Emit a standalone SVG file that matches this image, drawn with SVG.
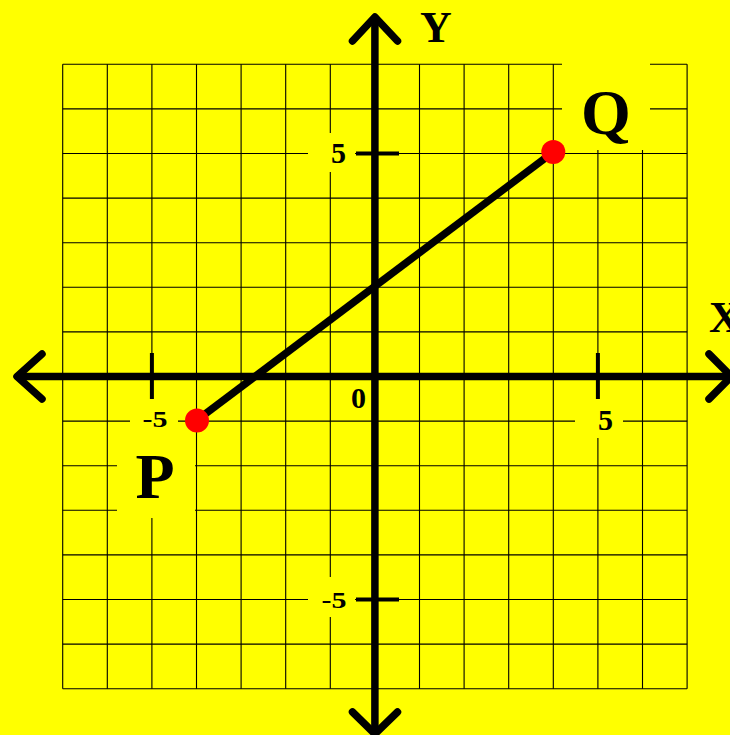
<svg xmlns="http://www.w3.org/2000/svg" width="730" height="735" viewBox="0 0 730 735">
<style>
.grid line{stroke:#000;stroke-width:1.1}
.bg{fill:#ffff00}
.ax{stroke:#000;stroke-width:7.5;fill:none;stroke-linecap:round;stroke-linejoin:round}
.tick{stroke:#000;stroke-width:4}
.t{font-family:"Liberation Serif",serif;font-weight:bold;fill:#000;text-anchor:middle}
.num{font-size:30px}
.big{font-size:64px}
.axl{font-size:44px}
</style>
<rect width="730" height="735" fill="#ffff00"/>
<g class="grid" id="grid">
<line x1="62.7" y1="64.3" x2="62.7" y2="688.7"/>
<line x1="107.3" y1="64.3" x2="107.3" y2="688.7"/>
<line x1="151.9" y1="64.3" x2="151.9" y2="688.7"/>
<line x1="196.5" y1="64.3" x2="196.5" y2="688.7"/>
<line x1="241.1" y1="64.3" x2="241.1" y2="688.7"/>
<line x1="285.7" y1="64.3" x2="285.7" y2="688.7"/>
<line x1="330.3" y1="64.3" x2="330.3" y2="688.7"/>
<line x1="374.9" y1="64.3" x2="374.9" y2="688.7"/>
<line x1="419.5" y1="64.3" x2="419.5" y2="688.7"/>
<line x1="464.1" y1="64.3" x2="464.1" y2="688.7"/>
<line x1="508.7" y1="64.3" x2="508.7" y2="688.7"/>
<line x1="553.3" y1="64.3" x2="553.3" y2="688.7"/>
<line x1="597.9" y1="64.3" x2="597.9" y2="688.7"/>
<line x1="642.5" y1="64.3" x2="642.5" y2="688.7"/>
<line x1="687.1" y1="64.3" x2="687.1" y2="688.7"/>
<line x1="62.7" y1="64.3" x2="687.1" y2="64.3"/>
<line x1="62.7" y1="108.9" x2="687.1" y2="108.9"/>
<line x1="62.7" y1="153.5" x2="687.1" y2="153.5"/>
<line x1="62.7" y1="198.1" x2="687.1" y2="198.1"/>
<line x1="62.7" y1="242.7" x2="687.1" y2="242.7"/>
<line x1="62.7" y1="287.3" x2="687.1" y2="287.3"/>
<line x1="62.7" y1="331.9" x2="687.1" y2="331.9"/>
<line x1="62.7" y1="376.5" x2="687.1" y2="376.5"/>
<line x1="62.7" y1="421.1" x2="687.1" y2="421.1"/>
<line x1="62.7" y1="465.7" x2="687.1" y2="465.7"/>
<line x1="62.7" y1="510.3" x2="687.1" y2="510.3"/>
<line x1="62.7" y1="554.9" x2="687.1" y2="554.9"/>
<line x1="62.7" y1="599.5" x2="687.1" y2="599.5"/>
<line x1="62.7" y1="644.1" x2="687.1" y2="644.1"/>
<line x1="62.7" y1="688.7" x2="687.1" y2="688.7"/>
</g>
<g id="label-backgrounds">
<rect class="bg" x="562" y="58" width="88" height="92"/>
<rect class="bg" x="117" y="440" width="78" height="78"/>
<rect class="bg" x="130" y="399" width="48" height="41"/>
<rect class="bg" x="575" y="399" width="48" height="39"/>
<rect class="bg" x="308" y="133" width="47" height="39"/>
<rect class="bg" x="308" y="577" width="47" height="40"/>
</g>
<g id="axes">
<line class="ax" x1="18" y1="376.5" x2="730" y2="376.5"/>
<polyline class="ax" points="42,354 17,376.5 42,399"/>
<polyline class="ax" points="709,354 731.5,376.5 709,399"/>
<line class="ax" x1="374.9" y1="18" x2="374.9" y2="733"/>
<polyline class="ax" points="352.5,41 374.9,17 397.5,41"/>
<polyline class="ax" points="352.5,712 374.9,734 397.5,712"/>
<line class="tick" x1="151.9" y1="353" x2="151.9" y2="399"/>
<line class="tick" x1="597.9" y1="353" x2="597.9" y2="399"/>
<line class="tick" x1="356" y1="153.5" x2="399" y2="153.5"/>
<line class="tick" x1="356" y1="599.5" x2="399" y2="599.5"/>
</g>
<g id="connectors">
<line x1="196.5" y1="420.5" x2="553.3" y2="152" stroke="#000" stroke-width="7.5"/>
</g>
<g id="P"><circle cx="197" cy="420.5" r="12" fill="#ff0000"/><text class="t big" x="155" y="498">P</text></g>
<g id="Q"><circle cx="553.3" cy="152" r="12" fill="#ff0000"/><text class="t big" x="606" y="134">Q</text></g>
<g id="labels">
<text class="t axl" x="436" y="42">Y</text>
<text class="t axl" x="725" y="332">X</text>
<text class="t num" x="338.5" y="163">5</text>
<text class="t num" x="358.5" y="408">0</text>
<text class="t num" x="605.5" y="430">5</text>
<text class="t num" transform="translate(155,427) scale(1,0.78)">-5</text>
<text class="t num" transform="translate(334,608) scale(1,0.78)">-5</text>
</g>
</svg>
